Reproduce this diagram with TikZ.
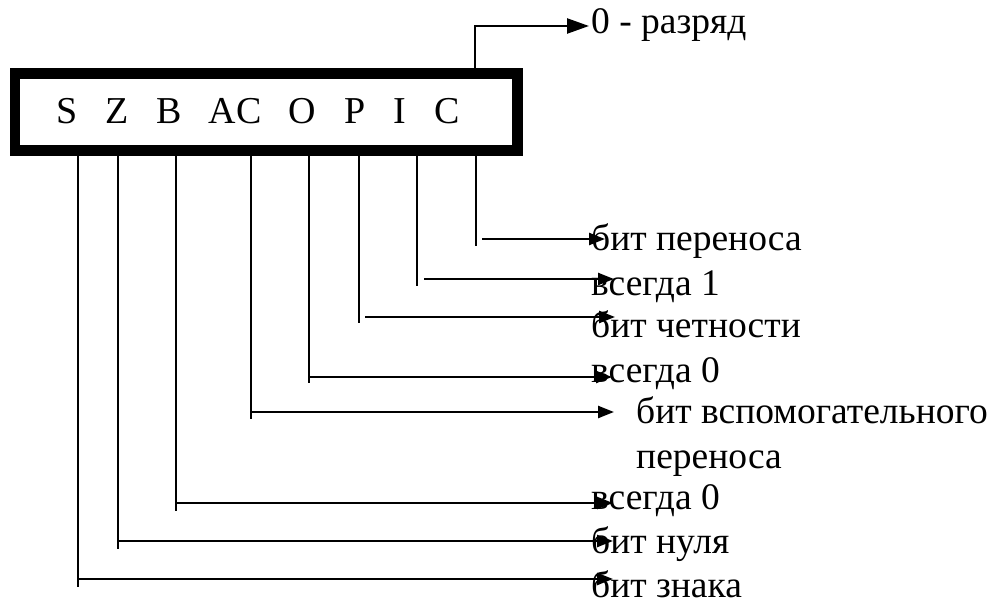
\documentclass[tikz,border=0pt]{standalone}
\usepackage{fontspec}
\setmainfont{Liberation Serif}
\usetikzlibrary{arrows.meta}
\begin{document}
\begin{tikzpicture}[x=1pt,y=-1pt,
  lbl/.style={font=\fontsize{37.5}{45}\selectfont, inner sep=0pt, anchor=base west},
  flag/.style={font=\fontsize{38}{45}\selectfont, inner sep=0pt, anchor=base},
  wire/.style={line width=2pt},
  arr/.style={line width=2.4pt, -{Triangle[length=16pt,width=12pt]}},
  bigarr/.style={line width=2.4pt, -{Triangle[length=22pt,width=15pt]}}]
\useasboundingbox (0,0) rectangle (989,599);
% register box
\node[draw, line width=10.5pt, minimum width=502.5pt, minimum height=77pt, inner sep=0pt] (reg) at (266.25,112) {};
% flag letters
\node[flag] (fS)  at (67,124)  {S};
\node[flag] (fZ)  at (117,124) {Z};
\node[flag] (fB)  at (169,124) {B};
\node[flag] (fAC) at (235,124) {AC};
\node[flag] (fO)  at (302,124) {O};
\node[flag] (fP)  at (355,124) {P};
\node[flag] (fI)  at (400,124) {I};
\node[flag] (fC)  at (447,124) {C};
% bit 0 marker above the box
\node[lbl] (zero) at (591,34) {0 - разряд};
\coordinate (zeroTip) at (589,26);
\draw[bigarr] (475,68) |- (zeroTip);
% descriptions
\node[lbl] (tC)  at (591,251) {бит переноса};
\node[lbl] (tI)  at (591,295) {всегда 1};
\node[lbl] (tP)  at (591,337) {бит четности};
\node[lbl] (tO)  at (591,382) {всегда 0};
\node[lbl] (tAC) at (636,423) {бит вспомогательного};
\node[lbl] (tAC2) at (636,468) {переноса};
\node[lbl] (tB)  at (591,509) {всегда 0};
\node[lbl] (tZ)  at (591,553) {бит нуля};
\node[lbl] (tS)  at (591,597) {бит знака};
% arrow tips
\coordinate (aC)  at (605,239);
\coordinate (aI)  at (614,279);
\coordinate (aP)  at (615,317);
\coordinate (aO)  at (612,377);
\coordinate (aAC) at (614,412);
\coordinate (aB)  at (613,503);
\coordinate (aZ)  at (613,541);
\coordinate (aS)  at (613,579);
% leader lines from the box
\draw[wire] (476,156) -- (476,246);  \draw[arr] (482,239) -- (aC);
\draw[wire] (417,156) -- (417,286);  \draw[arr] (424,279) -- (aI);
\draw[wire] (359,156) -- (359,323);  \draw[arr] (365,317) -- (aP);
\draw[wire] (309,156) -- (309,383);  \draw[arr] (309,377) -- (aO);
\draw[wire] (251,156) -- (251,419);  \draw[arr] (251,412) -- (aAC);
\draw[wire] (176,156) -- (176,511);  \draw[arr] (176,503) -- (aB);
\draw[wire] (118,156) -- (118,549);  \draw[arr] (118,541) -- (aZ);
\draw[wire] (78,156)  -- (78,587);   \draw[arr] (78,579)  -- (aS);
\end{tikzpicture}
\end{document}
